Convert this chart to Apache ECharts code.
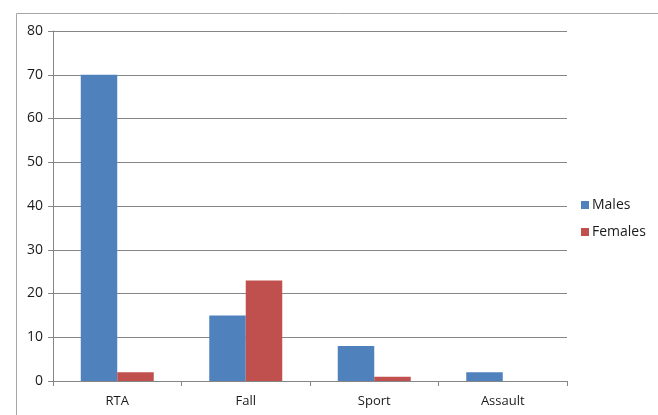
<!DOCTYPE html>
<html>
<head>
<meta charset="utf-8">
<script src="https://cdn.jsdelivr.net/npm/echarts@6/dist/echarts.min.js"></script>
<style>
  html, body { margin: 0; padding: 0; background: #fff; }
  #chart { width: 658px; height: 415px; }
</style>
</head>
<body>
<div id="chart"></div>
<script>
const categories = ['RTA', 'Fall', 'Sport', 'Assault'];
const males = [70, 15, 8, 2];
const females = [2, 23, 1, 0];
const yTicks = { min: 0, max: 80, interval: 10 };

const font = 'Open Sans, Noto Sans, sans-serif';
const axisGray = '#868686';

const chart = echarts.init(document.getElementById('chart'), null, { renderer: 'canvas' });

chart.setOption({
  animation: false,
  textStyle: { fontFamily: font },
  graphic: [
    {
      type: 'rect',
      shape: { x: 16.5, y: 13.5, width: 700, height: 500 },
      style: { fill: 'none', stroke: '#a6a6a6', lineWidth: 1 },
      silent: true
    }
  ],
  grid: {
    left: 53,
    right: 91,
    top: 31,
    bottom: 34
  },
  legend: {
    orient: 'vertical',
    left: 576,
    top: 193,
    icon: 'rect',
    itemWidth: 8,
    itemHeight: 8,
    itemGap: 13,
    itemStyle: { borderWidth: 0 },
    textStyle: { fontSize: 14, color: '#1a1a1a', fontFamily: font, padding: [0, 0, 0, -2] },
    data: ['Males', 'Females']
  },
  xAxis: {
    type: 'category',
    data: categories,
    axisLine: { lineStyle: { color: axisGray } },
    axisTick: { show: true, length: 5, inside: false, lineStyle: { color: axisGray } },
    axisLabel: { color: '#1a1a1a', fontSize: 13, margin: 14 },
    splitLine: { show: false }
  },
  yAxis: {
    type: 'value',
    min: yTicks.min,
    max: yTicks.max,
    interval: yTicks.interval,
    axisLine: { show: true, lineStyle: { color: axisGray } },
    axisTick: { show: true, length: 5, lineStyle: { color: axisGray } },
    axisLabel: { color: '#1a1a1a', fontSize: 14, margin: 10 },
    splitLine: { show: true, lineStyle: { color: axisGray, width: 1 } }
  },
  series: [
    {
      name: 'Males',
      type: 'bar',
      data: males,
      barWidth: '28.4%',
      barGap: '0%',
      itemStyle: { color: '#4F81BD' }
    },
    {
      name: 'Females',
      type: 'bar',
      data: females,
      barWidth: '28.4%',
      itemStyle: { color: '#C0504D' }
    }
  ]
});
</script>
</body>
</html>
